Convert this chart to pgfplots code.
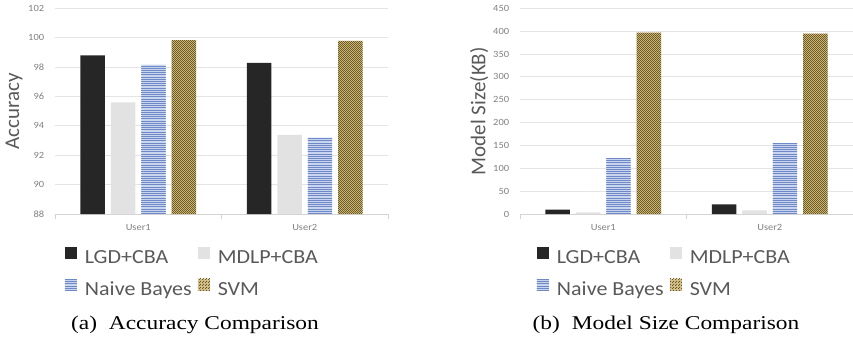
\documentclass[border=0pt]{standalone}
\usepackage{pgfplots}
\pgfplotsset{compat=1.18}
\usepackage{fontspec}
\setmainfont{Carlito}
\newfontfamily\cf{Carlito}[FakeStretch=1.1]
\newfontfamily\lf{Carlito}
\newfontfamily\capf{Liberation Serif}[FakeStretch=1.2]
\usetikzlibrary{patterns}
\definecolor{lgdc}{HTML}{262626}
\definecolor{mdlpc}{HTML}{E2E2E2}
\definecolor{nbbase}{HTML}{C9D5EE}
\definecolor{nbline}{HTML}{6F89C6}
\definecolor{svmbase}{HTML}{D4C391}
\definecolor{svmdark}{HTML}{715B1C}
\definecolor{gridc}{HTML}{E4E4E4}
\definecolor{axisc}{HTML}{D4D4D4}
\definecolor{tickc}{HTML}{808080}
\definecolor{labc}{HTML}{595959}

\pgfdeclarepatternformonly{nbh}{\pgfqpoint{-1pt}{-1pt}}{\pgfqpoint{3.2pt}{3.2pt}}{\pgfqpoint{2.2pt}{2.2pt}}{%
  \pgfsetlinewidth{0.6pt}%
  \pgfpathmoveto{\pgfqpoint{-1pt}{1.1pt}}\pgfpathlineto{\pgfqpoint{3.2pt}{1.1pt}}\pgfusepath{stroke}}
\pgfdeclarepatternformonly{chk}{\pgfpointorigin}{\pgfqpoint{2.4pt}{2.4pt}}{\pgfqpoint{2.4pt}{2.4pt}}{%
  \pgfpathrectangle{\pgfpointorigin}{\pgfqpoint{1.2pt}{1.2pt}}%
  \pgfpathrectangle{\pgfqpoint{1.2pt}{1.2pt}}{\pgfqpoint{1.2pt}{1.2pt}}%
  \pgfusepath{fill}}

\pgfplotsset{
  bars/.style={
    scale only axis, width=333pt, height=205.7pt,
    ybar=6pt, bar width=24.4pt,
    xmin=-0.5, xmax=1.5,
    xtick={0,1}, xticklabels={User1,User2},
    extra x ticks={-0.5,0.5,1.5}, extra x tick labels={},
    extra x tick style={major tick length=4.5pt, tick align=outside, tick style={draw=axisc, line width=0.8pt}},
    major tick length=0pt,
    xtick pos=bottom, ytick pos=left,
    axis line style={draw=none},
    ymajorgrids, grid style={draw=gridc, line width=0.9pt},
    tick label style={font=\cf\fontsize{9.5}{11}\selectfont, text=tickc, inner sep=0pt},
    /pgf/number format/assume math mode=true,
    yticklabel style={anchor=east, xshift=-10.7pt},
    xticklabel style={anchor=center, yshift=-13.5pt},
    ylabel style={font=\lf\fontsize{21}{25}\selectfont, text=labc, at={(axis description cs:-0.123,0.5)}, anchor=center},
    legend columns=2,
    legend cell align=left,
    legend style={draw=none, fill=none, inner sep=0pt, outer sep=0pt, anchor=north west,
       font=\cf\fontsize{20}{24}\selectfont, text=labc,
       nodes={inner sep=0pt, text height=14pt, text depth=4pt},
       row sep=11pt,
       /tikz/every odd column/.style={column sep=8pt},
       /tikz/every even column/.style={column sep=6pt}},
    every axis plot post/.append style={legend image code/.code={\draw[##1,draw=none] (0pt,0pt) rectangle (12pt,12pt);}},
  },
}

\begin{document}
\begin{tikzpicture}
\useasboundingbox (0,0) rectangle (853pt,-342pt);
\begin{axis}[bars, at={(55pt,-214pt)}, anchor=south west,
  ymin=88, ymax=102, ytick={88,90,...,102}, ylabel={Accuracy},
  extra y ticks={88}, extra y tick labels={}, extra y tick style={grid style={draw=axisc}},
  legend style={at={(axis description cs:0.030,-0.1604)}}]
\addplot[fill=lgdc, draw=none] coordinates {(0,98.8) (1,98.28)};
\addplot[fill=mdlpc, draw=none] coordinates {(0,95.6) (1,93.38)};
\addplot[fill=nbbase, draw=none, postaction={pattern=nbh, pattern color=nbline}] coordinates {(0,98.17) (1,93.2)};
\addplot[fill=svmbase, draw=none, postaction={pattern=chk, pattern color=svmdark}] coordinates {(0,99.84) (1,99.78)};
\legend{LGD+CBA, MDLP+CBA, Naive Bayes, SVM}
\end{axis}
\begin{axis}[bars, at={(520pt,-214pt)}, anchor=south west,
  ymin=0, ymax=450, ytick={0,50,...,450}, ylabel={Model Size(KB)},
  extra y ticks={0}, extra y tick labels={}, extra y tick style={grid style={draw=axisc}},
  legend style={at={(axis description cs:0.051,-0.1604)}}]
\addplot[fill=lgdc, draw=none] coordinates {(0,9.5) (1,21.2)};
\addplot[fill=mdlpc, draw=none] coordinates {(0,3.7) (1,8)};
\addplot[fill=nbbase, draw=none, postaction={pattern=nbh, pattern color=nbline}] coordinates {(0,122) (1,154.9)};
\addplot[fill=svmbase, draw=none, postaction={pattern=chk, pattern color=svmdark}] coordinates {(0,396.6) (1,394.5)};
\legend{LGD+CBA, MDLP+CBA, Naive Bayes, SVM}
\end{axis}
\node[font=\capf\fontsize{19.5}{23}\selectfont] at (195pt,-324.5pt) {(a)\hspace{6pt} Accuracy Comparison};
\node[font=\capf\fontsize{19.5}{23}\selectfont] at (666pt,-324.5pt) {(b)\hspace{6pt} Model Size Comparison};
\end{tikzpicture}
\end{document}
